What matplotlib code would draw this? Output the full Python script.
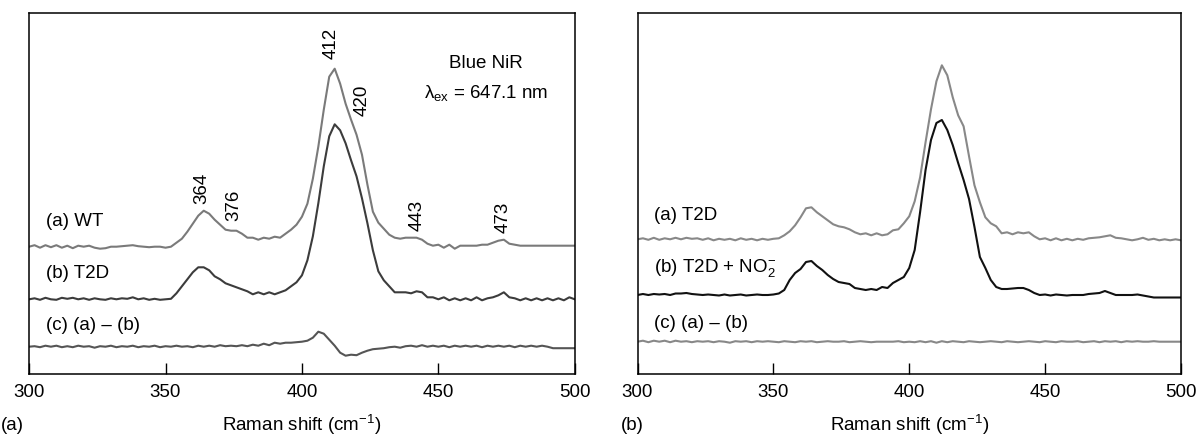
import numpy as np
import matplotlib
matplotlib.use("Agg")
import matplotlib.pyplot as plt

plt.rcParams['font.family'] = ['Liberation Sans', 'DejaVu Sans']
plt.rcParams['mathtext.fontset'] = 'custom'
plt.rcParams['mathtext.rm'] = 'Liberation Sans'
plt.rcParams['mathtext.it'] = 'Liberation Sans:italic'
plt.rcParams['mathtext.bf'] = 'Liberation Sans:bold'

# Raman shift grid (cm^-1), 300..500 every 2
shift = np.arange(300, 501, 2)

# ---- Panel (a): Blue NiR, lambda_ex = 647.1 nm (relative intensities, a.u.)
wt = [0, 1.5, -1, 1.5, -0.5, 1.5, -1, 1, -1.5, 1,
      0, 1, -1, -2, -1.5, 0, 0, 0.5, 1, 1.5,
      0.5, 0, -0.5, 0, 0, -1, 0, 4, 8, 15,
      23, 31, 36, 33, 27, 22, 17, 16, 16, 13,
      9, 9, 7, 9, 8, 10, 9, 13, 17, 22,
      30, 43, 68, 100, 137, 170, 178, 163, 143, 127,
      112, 92, 62, 35, 24, 18, 12, 9, 8, 9,
      9, 9, 7, 3, 1, 2, -1, 2, -2, 1,
      1, 1, 1, 2, 2, 4, 6, 7, 3, 2,
      1, 1, 1, 1, 1, 1, 1, 1, 1, 1,
      1]
t2d_a = [0, 1, -0.5, 1.5, 0, -0.5, 1.5, 0.5, 1.5, 0,
         1, -0.5, 1, 0, -0.5, 1, 0, 1, 0.5, 2,
         0, 1, -0.5, 0.5, -0.5, 0, 0.5, 6, 13, 20,
         27, 32, 32, 29, 23, 20, 16, 14, 12, 10,
         8, 5, 7, 5, 7, 5, 7, 9, 13, 17,
         24, 39, 63, 96, 133, 163, 175, 169, 156, 139,
         123, 101, 76, 49, 28, 19, 13, 7, 7, 7,
         6, 8, 7, 2, 2, 0, 2, -1, 1, -1,
         1, -1, 2, -1, 1, 2, 4, 7, 2, 1,
         -1, 1, -1, 1, -1, 1, -1, 1, -1, 2,
         0]
diff_a = [0, 0.5, -0.5, 1, 0, 1, -0.5, 0.5, -0.5, 1,
          0, 0.5, -1, 0.5, 0, 1, -0.5, 0.5, 0, 1,
          -0.5, 0.5, 0, 1, -0.5, 0.5, 0, 1, 0, 0.5,
          -0.5, 1, 0, 1, 0, 1.5, 0.5, 1, 0.5, 1.5,
          0.5, 2, 1, 3, 1.5, 4, 3, 4, 4, 4.5,
          5, 6, 9, 15, 13, 7, 1, -6, -9, -8,
          -8.5, -6, -4, -2.5, -2, -1.5, -0.5, 0, -1, 0.5,
          1, 0, 1.5, 0, 1, 0, 1, -0.5, 1, 0,
          1, 0, 1, -0.5, 1, 0, 1, 0, 1, -0.5,
          1, 0, 1, 0, 1, 0, -1.5, -1.5, -1.5, -1.5,
          -1.5]

# ---- Panel (b): T2D with / without nitrite
t2d_b = [0, 1, -0.5, 1.5, -0.5, 1, 0, 1.5, 0, 1.5,
         0.5, 1, -0.5, 1, -1, 0.5, -0.5, 0.5, -1, 1,
         -0.5, 0.5, -1, 0.5, -0.5, 0.5, 1, 4, 8, 14,
         22, 31, 32, 27, 23, 19, 15, 13, 12, 10,
         7, 5, 6, 4, 6, 4, 5, 9, 10, 16,
         23, 38, 62, 97, 130, 158, 174, 164, 142, 124,
         113, 83, 54, 37, 22, 16, 13, 6, 7, 5,
         7, 6, 7, 3, 0, 1, -1, 1, -1, 0.5,
         -1, 0.5, -0.5, 1, 1.5, 2, 3, 4, 1.5, 1,
         0, -1, 0, 1.5, -0.5, 0.5, -1, 0, -1, 0,
         -1]
t2d_no2 = [0, 1, 0, 1, 0.5, 1, 0, 1.5, 1.5, 2,
           1, 0.5, 0, 0.5, 0, -0.5, 0.5, -0.5, 0, 0.5,
           -0.5, 0, 0.5, 0, 0, 0.5, 1.5, 5, 15, 22,
           26, 33, 34, 29, 25, 20, 16, 13, 12, 11,
           7, 6, 5, 6, 5, 8, 7, 12, 15, 18,
           27, 45, 83, 125, 155, 172, 175, 165, 150, 132,
           115, 96, 68, 38, 27, 15, 8, 6, 6, 6.5,
           7, 7, 5, 2, 0, 0.5, -0.5, 0.5, 0, -0.5,
           0, 0, 0, 1, 1.5, 2, 4, 2, 0, 0,
           0, 0, 0.5, -0.5, -1.5, -2.5, -2.5, -2.5, -2.5, -2.5,
           -2.5]
diff_b = [0, 1, -0.5, 1, 0, 1, -0.5, 1, 0, 0.5,
          -0.5, 0.5, 0, 0.5, -0.5, 0.5, 0, -1, 0.5, 0,
          0.5, -0.5, 0.5, 0, 0.5, 0, -0.5, 0.5, 0, -0.5,
          0.5, 0, 0.5, -0.5, 0, 0.5, 0, 0, 0.5, -0.5,
          0, 0.5, 0, -0.5, 0, 0, 0, 0, 0.5, -0.5,
          0, -0.5, 0.5, -0.5, 0.5, -1, 0.5, -0.5, 0.5, 0,
          -0.5, 0.5, 0, -0.5, 0, 0.5, 0, -0.5, 0.5, 0,
          -0.5, 0, 0.5, 0, -0.5, 0.5, 0, -0.5, 0.5, 0,
          0, 0.5, -0.5, 0, 0.5, -0.5, 0.5, 0, 0.5, -0.5,
          0.5, 0, 0.5, 0, 0, 0.5, 0, 0, 0, 0,
          0]

xticks = [300, 350, 400, 450, 500]
peak_labels = [("412", 410.6, 331), ("420", 421.9, 274), ("364", 363.3, 186),
               ("376", 375.1, 169), ("443", 442.2, 159), ("473", 473.7, 157)]

for arr in (wt, t2d_a, diff_a, t2d_b, t2d_no2, diff_b):
    assert len(arr) == len(shift)

W, H = 1202, 437
fig = plt.figure(figsize=(W / 100, H / 100), dpi=100)
FS = 13.5

def make_ax(left_px, right_px):
    ax = fig.add_axes([left_px / W, 1 - 374 / H, (right_px - left_px) / W, (374 - 13.3) / H])
    ax.set_xlim(300, 500)
    ax.set_ylim(0, 360.7)
    ax.set_yticks([])
    ax.set_xticks(xticks)
    ax.tick_params(axis='x', direction='in', length=8, width=1, labelsize=FS, pad=7)
    for s in ax.spines.values():
        s.set_linewidth(1.1)
    return ax

ax1 = make_ax(29.1, 574.8)
ax2 = make_ax(637.5, 1181)

lw = 1.5
ax1.plot(shift, np.array(wt) + 127.3, color='#7a7a7a', lw=lw)
ax1.plot(shift, np.array(t2d_a) + 74.7, color='#3c3c3c', lw=lw)
ax1.plot(shift, np.array(diff_a) + 27.3, color='#555555', lw=lw)

ax2.plot(shift, np.array(t2d_b) + 134.7, color='#888888', lw=lw)
ax2.plot(shift, np.array(t2d_no2) + 79.0, color='#111111', lw=lw)
ax2.plot(shift, np.array(diff_b) + 32.3, color='#888888', lw=lw)

for txt, x, y in peak_labels:
    ax1.text(x, y, txt, rotation=90, ha='center', va='center', fontsize=FS)

ax1.text(467.5, 311, "Blue NiR", ha='center', va='center', fontsize=FS)
ax1.text(467.5, 281, "λ$_{\\mathrm{ex}}$ = 647.1 nm", ha='center', va='center', fontsize=FS)

ax1.text(306.2, 153, "(a) WT", ha='left', va='center', fontsize=FS)
ax1.text(306.2, 101, "(b) T2D", ha='left', va='center', fontsize=FS)
ax1.text(306.2, 49, "(c) (a) – (b)", ha='left', va='center', fontsize=FS)

ax2.text(306.1, 158, "(a) T2D", ha='left', va='center', fontsize=FS)
ax2.text(306.1, 106, "(b) T2D + NO$_2^{-}$", ha='left', va='center', fontsize=FS)
ax2.text(306.1, 51, "(c) (a) – (b)", ha='left', va='center', fontsize=FS)

ylab = 1 - 425 / H
fig.text(302 / W, ylab, "Raman shift (cm$^{-1}$)", ha='center', va='center', fontsize=FS)
fig.text(910 / W, ylab, "Raman shift (cm$^{-1}$)", ha='center', va='center', fontsize=FS)
fig.text(1 / W, ylab, "(a)", ha='left', va='center', fontsize=FS)
fig.text(621 / W, ylab, "(b)", ha='left', va='center', fontsize=FS)

fig.savefig("out.png", dpi=100)
